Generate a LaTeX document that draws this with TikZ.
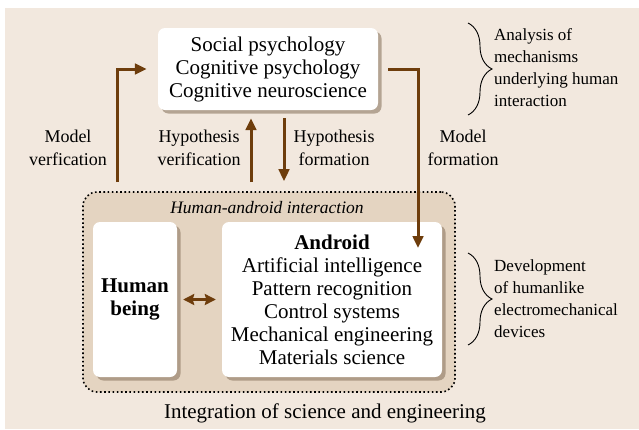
\documentclass[tikz,border=0pt]{standalone}
\usepackage{fontspec}
\setmainfont{Liberation Serif}
\usetikzlibrary{arrows.meta, positioning, shadows, decorations.pathreplacing}
\definecolor{bgbeige}{HTML}{F2E8DE}
\definecolor{tanfill}{HTML}{E4D4C1}
\definecolor{arrowbrown}{HTML}{6E3D0C}
\definecolor{shadowbrown}{HTML}{8C7862}

\begin{document}
\begin{tikzpicture}[
  x=1pt, y=-1pt,
  card/.style={fill=white, rounded corners=7pt, align=center, inner sep=0pt, font=\fontsize{21}{23}\selectfont, drop shadow={shadow xshift=3.5pt, shadow yshift=-3.5pt, fill=shadowbrown, opacity=0.6}},
  region/.style={draw=black, fill=tanfill, rounded corners=14pt, line width=1.6pt, dash pattern=on 1.6pt off 2.6pt},
  tag/.style={font=\fontsize{17.5}{21}\selectfont\itshape},
  lbl/.style={align=center, font=\fontsize{18}{23}\selectfont},
  note/.style={align=left, anchor=west, inner sep=0pt, font=\fontsize{17}{22}\selectfont},
  caption/.style={font=\fontsize{21}{23}\selectfont},
  arr/.style={-{Triangle[length=12pt, width=10.5pt]}, arrowbrown, line width=3pt},
  dbl/.style={{Stealth[length=11pt, width=11pt, inset=1.5pt]}-{Stealth[length=11pt, width=11pt, inset=1.5pt]}, arrowbrown, line width=3pt},
  brace/.style={decorate, decoration={brace, amplitude=24pt}, line width=0.9pt}
]
\useasboundingbox (0,0) rectangle (639,429);
\fill[bgbeige] (5,8) rectangle (639,429);

% Top: fields studying human interaction
\node[card, minimum width=220pt, minimum height=82pt] (psych) at (268,69) {Social psychology\\Cognitive psychology\\Cognitive neuroscience};

% Middle: human-android interaction
\node[region, minimum width=372pt, minimum height=200pt] (hai) at (269,292) {};
\node[tag] (haitag) at (267,208) {Human-android interaction};
\node[card, minimum width=84pt, minimum height=155pt] (human) at (135,299.5) {\textbf{Human}\\\textbf{being}};
\node[card, minimum width=220pt, minimum height=155pt] (android) at (332,299.5) {\textbf{Android}\\Artificial intelligence\\Pattern recognition\\Control systems\\Mechanical engineering\\Materials science};

% Bottom caption
\node[caption] (integ) at (325,413) {Integration of science and engineering};

% Arrow labels
\node[lbl] (mverif) at (68,148) {Model\\verfication};
\node[lbl] (hverif) at (199,148) {Hypothesis\\verification};
\node[lbl] (hform) at (334,148) {Hypothesis\\formation};
\node[lbl] (mform) at (463,148) {Model\\formation};

% Arrow columns
\coordinate (mvx) at (117,0);
\coordinate (hvx) at (251,0);
\coordinate (hfx) at (284,0);
\coordinate (mfend) at (418,248);

\draw[arr, shorten <=9pt, shorten >=11pt] (hai.north -| mvx) |- (psych.west);
\draw[arr, shorten <=9pt, shorten >=8pt] (hai.north -| hvx) -- (psych.south -| hvx);
\draw[arr, shorten <=8pt, shorten >=10pt] (psych.south -| hfx) -- (hai.north -| hfx);
\draw[arr, shorten <=10pt] (psych.east) -| (mfend);
\draw[dbl, shorten <=6pt, shorten >=6pt] (human) -- (android);

% Braces and notes
\draw[brace] (468,23) -- (468,115);
\node[note] (analysis) at (494,68) {Analysis of\\mechanisms\\underlying human\\interaction};
\draw[brace] (468,253) -- (468,345);
\node[note] (develop) at (494,299) {Development\\of humanlike\\electromechanical\\devices};

\end{tikzpicture}
\end{document}
